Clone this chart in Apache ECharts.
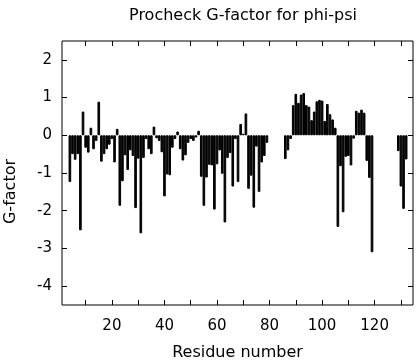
<!DOCTYPE html>
<html><head><meta charset="utf-8">
<script src="https://cdn.jsdelivr.net/npm/echarts@6/dist/echarts.min.js"></script>
<style>html,body{margin:0;padding:0;background:#fff}#c{width:416px;height:360px}</style>
</head><body><div id="c"></div>
<script>
// Residue numbers with a G-factor value
const residues = [4,5,6,7,8,9,10,11,12,13,14,15,16,17,18,19,20,21,22,23,24,25,26,27,28,29,30,
  31,32,33,34,35,36,37,38,39,40,41,42,43,44,45,46,47,48,49,50,51,52,53,54,55,56,57,58,59,60,
  61,62,63,64,65,66,67,68,69,70,71,72,73,74,75,76,77,78,79,
  86,87,88,89,90,91,92,93,94,95,96,97,98,99,100,101,102,103,104,105,106,107,108,109,110,
  111,112,113,114,115,116,117,118,119,
  129,130,131,132];
// G-factor (phi-psi) per residue
const gFactor = [-1.24,-0.5,-0.65,-0.5,-2.52,0.63,-0.33,-0.46,0.2,-0.37,-0.15,0.89,-0.7,-0.5,-0.37,-0.25,-0.1,-0.72,0.17,-1.87,-1.22,-0.53,-0.92,-0.4,-0.55,-1.93,-0.62,
  -2.6,-0.6,-0.1,-0.37,-0.5,0.23,-0.08,-0.15,-0.45,-1.62,-1.04,-1.06,-0.33,-0.1,0.1,-0.37,-0.67,-0.53,-0.2,-0.1,-0.15,-0.06,0.12,-1.1,-1.87,-1.12,-0.78,-0.8,-1.97,-0.77,
  -0.4,-1.02,-2.31,-0.6,-0.47,-1.36,-0.1,-1.24,0.3,0.04,0.58,-1.42,-1.07,-1.92,-0.3,-1.5,-0.72,-0.55,-0.2,
  -0.63,-0.4,-0.1,0.8,1.1,0.86,1.08,1.12,0.8,0.76,0.4,0.63,0.9,0.94,0.92,0.38,0.83,0.56,0.42,0.2,-2.43,-0.82,-2.04,-0.57,-0.55,
  -0.8,-0.09,0.65,0.6,0.68,0.6,-0.68,-1.13,-3.1,
  -0.42,-1.36,-1.95,-0.64];
const xTickValues = [10,20,30,40,50,60,70,80,90,100,110,120,130];
const xLabelValues = [20,40,60,80,100,120];
const yTickValues = [-4,-3,-2,-1,0,1,2];
const xRange = [1, 134.6];
const yRange = [-4.5, 2.5];

const FONT = 'DejaVu Sans';
const chart = echarts.init(document.getElementById('c'), null, {renderer: 'canvas'});
const tickStyle = {lineStyle: {color: '#000', width: 1}, inside: true, length: 5};
chart.setOption({
  animation: false,
  backgroundColor: '#fff',
  title: {
    text: 'Procheck G-factor for phi-psi',
    left: 238, top: 3, textAlign: 'center',
    textStyle: {fontFamily: FONT, fontSize: 16, fontWeight: 'normal', color: '#000'}
  },
  grid: {left: 62, right: 3, top: 41, bottom: 55, show: true, borderColor: '#000', borderWidth: 1,
    backgroundColor: 'transparent', containLabel: false, outerBoundsMode: 'none'},
  xAxis: [{
    type: 'value', min: xRange[0], max: xRange[1], position: 'bottom',
    name: 'Residue number', nameLocation: 'middle', nameGap: 40,
    nameTextStyle: {fontFamily: FONT, fontSize: 16, color: '#000'},
    axisLine: {show: false, onZero: false},
    axisTick: Object.assign({customValues: xTickValues}, tickStyle),
    axisLabel: {customValues: xLabelValues, fontFamily: FONT, fontSize: 15, color: '#000', margin: 14},
    splitLine: {show: false}
  }, {
    type: 'value', min: xRange[0], max: xRange[1], position: 'top',
    axisLine: {show: false, onZero: false},
    axisTick: Object.assign({customValues: xTickValues}, tickStyle),
    axisLabel: {show: false},
    splitLine: {show: false}
  }],
  yAxis: [{
    type: 'value', min: yRange[0], max: yRange[1], position: 'left',
    name: 'G-factor', nameLocation: 'middle', nameGap: 43, nameRotate: 90,
    nameTextStyle: {fontFamily: FONT, fontSize: 16, color: '#000', padding: [0, 37, 0, 0]},
    axisLine: {show: false, onZero: false},
    axisTick: Object.assign({customValues: yTickValues}, tickStyle),
    axisLabel: {customValues: yTickValues, fontFamily: FONT, fontSize: 15, color: '#000', margin: 10},
    splitLine: {show: false}
  }, {
    type: 'value', min: yRange[0], max: yRange[1], position: 'right',
    axisLine: {show: false, onZero: false},
    axisTick: Object.assign({customValues: yTickValues}, tickStyle),
    axisLabel: {show: false},
    splitLine: {show: false}
  }],
  series: [{
    type: 'bar',
    xAxisIndex: 0, yAxisIndex: 0,
    data: residues.map((r, i) => [r, gFactor[i]]),
    barWidth: '100%',
    itemStyle: {color: '#000', borderColor: '#000', borderWidth: 1},
    emphasis: {disabled: true}
  }]
});
</script>
</body></html>
